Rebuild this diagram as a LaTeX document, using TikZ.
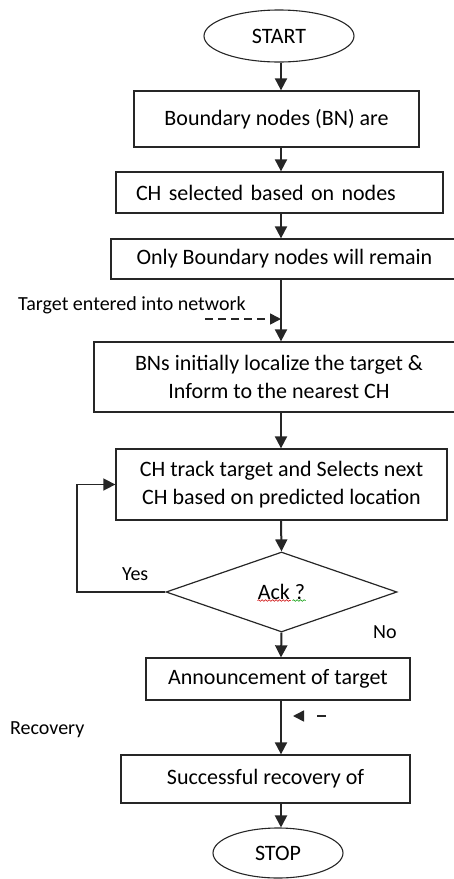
\documentclass[tikz,border=0pt]{standalone}
\usepackage{fontspec}
\setmainfont{Carlito}
\usetikzlibrary{arrows.meta}
\usetikzlibrary{shapes.geometric}
\usetikzlibrary{decorations.pathmorphing}

\tikzset{
  flowbox/.style={draw=black!85,line width=1.3pt,rectangle,inner sep=0pt,align=center,font=\fontsize{22}{28.5}\selectfont},
  termbox/.style={draw=black!85,line width=1.1pt,ellipse,inner sep=0pt,font=\fontsize{22}{27}\selectfont},
  flowarr/.style={draw=black!85,line width=2pt,-{Triangle[length=12pt,width=12pt]}},
  hintarr/.style={draw=black!85,line width=1.6pt,dash pattern=on 8pt off 5pt,-{Triangle[length=11pt,width=11pt]}},
  sidetext/.style={inner sep=0pt,font=\fontsize{20}{24}\selectfont},
}

\begin{document}
\begin{tikzpicture}[x=1pt,y=-1pt]
\useasboundingbox (0,0) rectangle (454,879);
\coordinate (spine) at (281,0);
\coordinate (loopx) at (77,0);

\node[termbox,minimum width=150pt,minimum height=52pt] (start) at (279,36) {START};
\node[flowbox,minimum width=285pt,minimum height=56pt] (bn) at (276.5,119) {Boundary nodes (BN) are};
\node[flowbox,minimum width=327pt,minimum height=41pt,inner xsep=20pt,text width=287pt,align=left] (chsel) at (279.5,192.5) {CH selected based on nodes};
\node[flowbox,minimum width=347pt,minimum height=40pt] (only) at (284.5,259) {Only Boundary nodes will remain};
\node[flowbox,minimum width=370pt,minimum height=70pt] (bns) at (279,377) {BNs initially localize the target \&\\Inform to the nearest CH};
\node[flowbox,minimum width=331pt,minimum height=71pt] (track) at (281.5,484.5) {CH track target and Selects next\\CH based on predicted location};
\node[draw=black!85,line width=1.2pt,diamond,aspect=2.89,minimum width=231pt,minimum height=80pt,inner sep=0pt,font=\fontsize{22}{27}\selectfont] (ack) at (281.5,592) {Ack ?};
\node[flowbox,minimum width=264pt,minimum height=42pt] (ann) at (278,679) {Announcement of target};
\node[flowbox,minimum width=289pt,minimum height=48pt] (succ) at (265.5,779) {Successful recovery of};
\node[termbox,minimum width=130pt,minimum height=50pt] (stop) at (278,853) {STOP};

% spell check marks under Ack ?
\draw[red!80!black,line width=0.6pt,decorate,decoration={snake,amplitude=0.8pt,segment length=3.5pt}] (ack.center) ++(-24,8.5) -- ++(33,0);
\draw[green!60!black,line width=0.6pt,decorate,decoration={snake,amplitude=0.8pt,segment length=3.5pt}] (ack.center) ++(11,8.5) -- ++(13,0);

\node[sidetext,anchor=base west] (tgt) at (18,310) {Target entered into network};
\node[sidetext,anchor=base west] (rec) at (10,734) {Recovery};
\node[sidetext,anchor=base west] (yes) at (122,580) {Yes};
\node[sidetext,anchor=base west] (no) at (373,638) {No};

\draw[flowarr] (start.south -| spine) -- (bn.north -| spine);
\draw[flowarr] (bn.south -| spine) -- (chsel.north -| spine);
\draw[flowarr] (chsel.south -| spine) -- (only.north -| spine);
\draw[flowarr] (only.south -| spine) -- (bns.north -| spine);
\draw[flowarr] (bns.south -| spine) -- (track.north -| spine);
\draw[flowarr] (track.south -| spine) -- (ack.north);
\draw[flowarr] (ack.south) -- (ann.north -| spine);
\draw[flowarr] (ann.south -| spine) -- (succ.north -| spine);
\draw[flowarr] (succ.south -| spine) -- (stop.north -| spine);

% Yes loop back
\draw[draw=black!85,line width=1.6pt,-{Triangle[length=12pt,width=12pt]}] (ack.west) -- (ack.west -| loopx) |- (track.west);

% dashed hints
\coordinate (tgtfrom) at (205,319);
\draw[hintarr] (tgtfrom) -- (tgtfrom -| spine);
\coordinate (recfrom) at (326,716);
\coordinate (recto) at (293,716);
\draw[hintarr,dash pattern=on 9pt off 30pt] (recfrom) -- (recto);

\end{tikzpicture}
\end{document}
